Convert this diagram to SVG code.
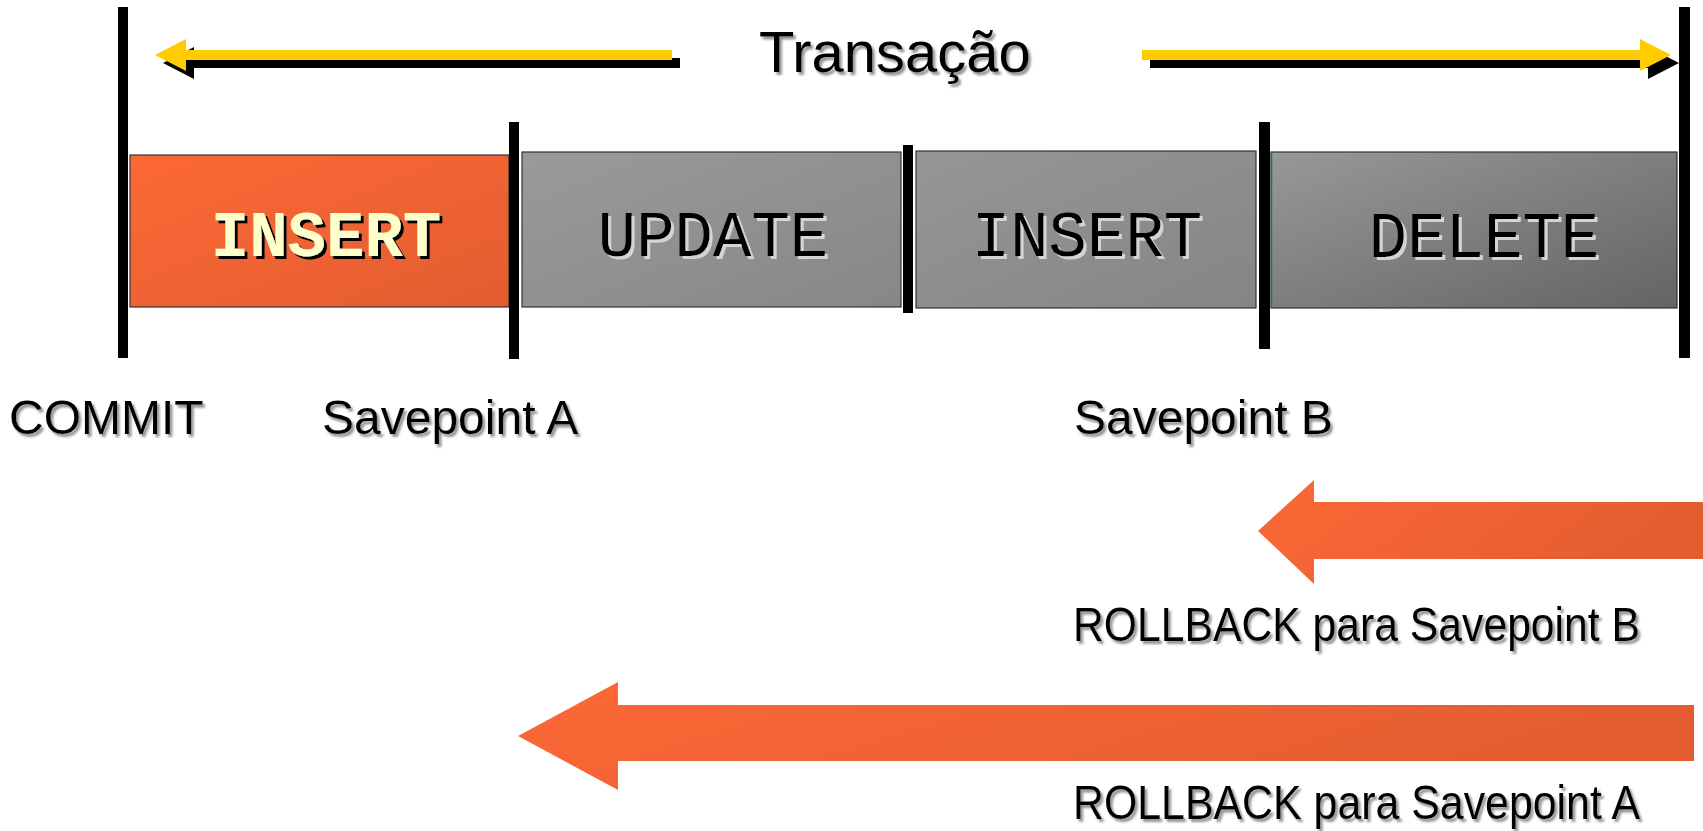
<svg xmlns="http://www.w3.org/2000/svg" width="1703" height="831" viewBox="0 0 1703 831">
<defs>
<linearGradient id="gOrange" x1="0" y1="0" x2="1" y2="1">
<stop offset="0" stop-color="#FD6836"/>
<stop offset="1" stop-color="#E25D30"/>
</linearGradient>
<linearGradient id="gArrow" x1="0" y1="0" x2="1" y2="0.3">
<stop offset="0" stop-color="#FD6836"/>
<stop offset="1" stop-color="#E35D31"/>
</linearGradient>
<linearGradient id="gGray1" x1="0" y1="0" x2="1" y2="1">
<stop offset="0" stop-color="#9A9A9A"/>
<stop offset="1" stop-color="#878787"/>
</linearGradient>
<linearGradient id="gGray2" x1="0" y1="0" x2="1" y2="1">
<stop offset="0" stop-color="#969696"/>
<stop offset="1" stop-color="#858585"/>
</linearGradient>
<linearGradient id="gGray3" x1="0" y1="0" x2="1" y2="1">
<stop offset="0" stop-color="#989898"/>
<stop offset="1" stop-color="#646464"/>
</linearGradient>
<filter id="shText" x="-5%" y="-20%" width="110%" height="140%">
<feDropShadow dx="2.5" dy="3" stdDeviation="1.2" flood-color="#777" flood-opacity="0.8"/>
</filter>
<filter id="shBlack" x="-5%" y="-20%" width="110%" height="140%">
<feDropShadow dx="3" dy="3" stdDeviation="0.6" flood-color="#000" flood-opacity="1"/>
</filter>
<filter id="shLight" x="-5%" y="-20%" width="110%" height="140%">
<feDropShadow dx="3" dy="3" stdDeviation="0.5" flood-color="#D4D4D4" flood-opacity="1"/>
</filter>
<style>
.lbl{font-family:"Liberation Sans",Arial,sans-serif;font-size:48px;fill:#000;filter:url(#shText)}
.title{font-family:"Liberation Sans",Arial,sans-serif;font-size:58px;fill:#000;filter:url(#shText)}
.op{font-family:"Courier New","Liberation Mono",monospace;font-size:64px;text-anchor:middle}
.opg{fill:#000;filter:url(#shLight)}
.opo{fill:#FFFFCC;font-weight:bold;filter:url(#shBlack)}
.bar{fill:#000}
.box{stroke:#333;stroke-width:1.2}
.yel{fill:#FFCC00}
.blk{fill:#000}
</style>
</defs>
<rect width="1703" height="831" fill="#fff"/>

<g id="title">
<text class="title" x="759" y="72">Transação</text>
</g>

<g id="connectors">
<polygon class="blk" points="163,63 194,47 194,58 680,58 680,68 194,68 194,79"/>
<polygon class="yel" points="155,55 186,39 186,50 672,50 672,60 186,60 186,71"/>
<polygon class="blk" points="1150,58 1648,58 1648,47 1679,63 1648,79 1648,68 1150,68"/>
<polygon class="yel" points="1142,50 1640,50 1640,39 1671,55 1640,71 1640,60 1142,60"/>
</g>

<g id="box-insert-a">
<rect class="box" x="130" y="155" width="379" height="152" fill="url(#gOrange)" stroke="#6a2a12"/>
<text class="op opo" x="326" y="256">INSERT</text>
</g>
<g id="box-update">
<rect class="box" x="522" y="152" width="379" height="155" fill="url(#gGray1)"/>
<text class="op opg" x="713" y="256">UPDATE</text>
</g>
<g id="box-insert-b">
<rect class="box" x="916" y="151" width="340" height="157" fill="url(#gGray2)"/>
<text class="op opg" x="1087" y="256">INSERT</text>
</g>
<g id="box-delete">
<rect class="box" x="1271" y="152" width="406" height="156" fill="url(#gGray3)"/>
<line x1="1271.5" y1="153" x2="1271.5" y2="307" stroke="#0A7A7A" stroke-width="1.5"/>
<text class="op opg" x="1484" y="257">DELETE</text>
</g>

<g id="bars">
<rect class="bar" x="118" y="7" width="10" height="351"/>
<rect class="bar" x="509" y="122" width="10" height="237"/>
<rect class="bar" x="903" y="145" width="10" height="168"/>
<rect class="bar" x="1259" y="122" width="11" height="227"/>
<rect class="bar" x="1679" y="7" width="11" height="351"/>
</g>

<g id="label-commit"><text class="lbl" x="9" y="434">COMMIT</text></g>
<g id="label-spa"><text class="lbl" x="322" y="434">Savepoint A</text></g>
<g id="label-spb"><text class="lbl" x="1074" y="434">Savepoint B</text></g>

<g id="rollback-b">
<polygon points="1258,531 1314,480 1314,502 1703,502 1703,559 1314,559 1314,584" fill="url(#gArrow)"/>
<text class="lbl" x="1073" y="641" textLength="567" lengthAdjust="spacingAndGlyphs">ROLLBACK para Savepoint B</text>
</g>
<g id="rollback-a">
<polygon points="518,736 618,682 618,705 1694,705 1694,761 618,761 618,790" fill="url(#gArrow)"/>
<text class="lbl" x="1073" y="819" textLength="567" lengthAdjust="spacingAndGlyphs">ROLLBACK para Savepoint A</text>
</g>
</svg>
